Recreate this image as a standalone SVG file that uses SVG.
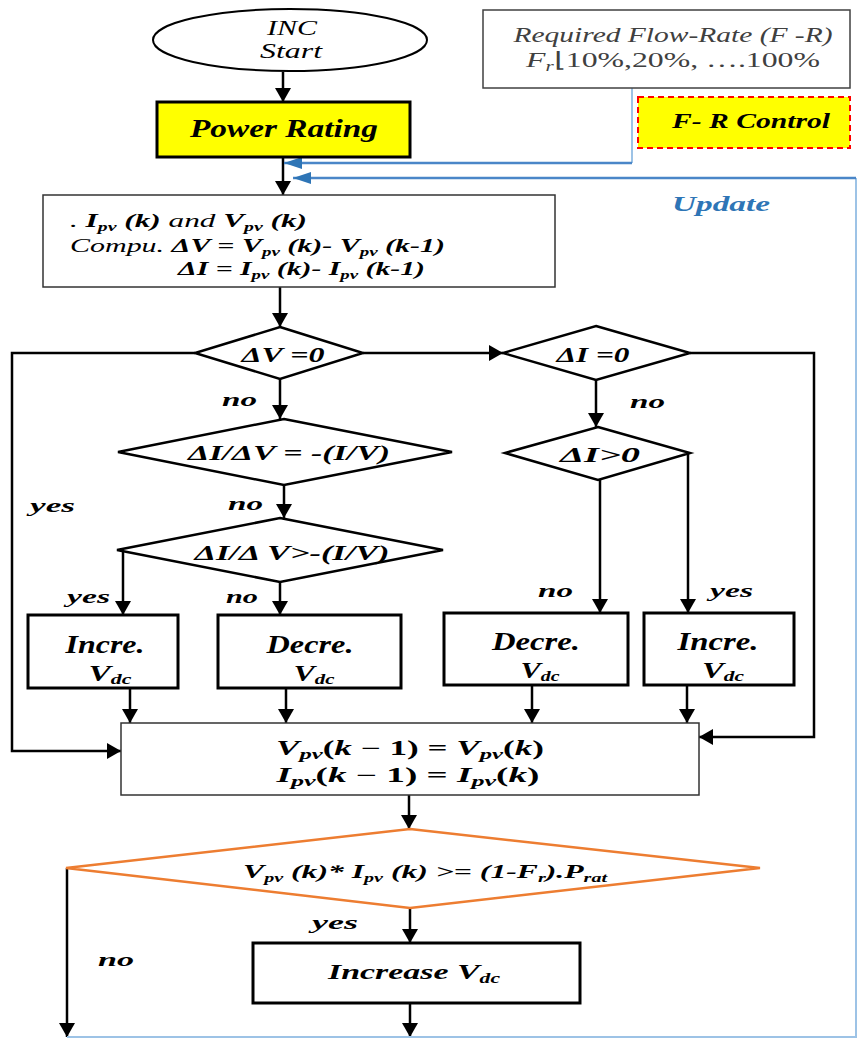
<svg xmlns="http://www.w3.org/2000/svg" width="858" height="1039" viewBox="0 0 858 1039">
<defs>
<marker id="ah" viewBox="0 0 14 16" markerWidth="14" markerHeight="16" refX="14" refY="8" orient="auto" markerUnits="userSpaceOnUse"><path d="M0,0 L14,8 L0,16 z" fill="#000"/></marker>
<marker id="bh" viewBox="0 0 18 12" markerWidth="18" markerHeight="12" refX="18" refY="6" orient="auto" markerUnits="userSpaceOnUse"><path d="M0,0 L18,6 L0,12 z" fill="#2E75B6"/></marker>
<style>
.t{font-family:"Liberation Serif","Times New Roman",serif;font-style:italic;font-weight:bold;fill:#000}
.r{font-weight:normal}
.up{font-style:normal}
.box{fill:#fff;stroke:#000;stroke-width:3}
.thin{fill:#fff;stroke:#333;stroke-width:1.5}
.dia{fill:#fff;stroke:#000;stroke-width:2.5}
.c{fill:none;stroke:#000;stroke-width:2.5}
.b{fill:none;stroke:#9DC3E6;stroke-width:2}
.bd{fill:none;stroke:#4A86C8;stroke-width:2.5}
</style>
</defs>
<rect width="858" height="1039" fill="#fff"/>

<g id="connectors">
<path class="c" d="M283,72 V102" marker-end="url(#ah)"/>
<path class="c" d="M283,157 V195" marker-end="url(#ah)"/>
<path class="c" d="M280,287 V327" marker-end="url(#ah)"/>
<path class="c" d="M195,353 H12 V751 H121" marker-end="url(#ah)"/>
<path class="c" d="M363,353 H503" marker-end="url(#ah)"/>
<path class="c" d="M280,379 V419" marker-end="url(#ah)"/>
<path class="c" d="M284,485 V518" marker-end="url(#ah)"/>
<path class="c" d="M123,550 V615" marker-end="url(#ah)"/>
<path class="c" d="M280,582 V615" marker-end="url(#ah)"/>
<path class="c" d="M690,353 H814 V737 H699" marker-end="url(#ah)"/>
<path class="c" d="M596,380 V427" marker-end="url(#ah)"/>
<path class="c" d="M600,480 V613" marker-end="url(#ah)"/>
<path class="c" d="M688,453 V613" marker-end="url(#ah)"/>
<path class="c" d="M130,688 V723" marker-end="url(#ah)"/>
<path class="c" d="M286,688 V723" marker-end="url(#ah)"/>
<path class="c" d="M532,685 V723" marker-end="url(#ah)"/>
<path class="c" d="M687,685 V723" marker-end="url(#ah)"/>
<path class="c" d="M409,795 V829" marker-end="url(#ah)"/>
<path class="c" d="M67,868 V1037" marker-end="url(#ah)"/>
<path class="c" d="M410,908 V943" marker-end="url(#ah)"/>
<path class="c" d="M410,1003 V1037" marker-end="url(#ah)"/>
<path class="b" d="M67,1037 H856 V178"/>
<path class="bd" d="M856,178 H293" marker-end="url(#bh)"/>
<path class="b" d="M632,88 V163"/>
<path class="bd" d="M632,163 H284" marker-end="url(#bh)"/>
</g>

<g id="start">
<ellipse cx="290" cy="40" rx="137" ry="31" fill="#fff" stroke="#000" stroke-width="2"/>
<text class="t r" x="292" y="35" font-size="21" text-anchor="middle" textLength="50" lengthAdjust="spacingAndGlyphs">INC</text>
<text class="t r" x="291" y="58" font-size="21" text-anchor="middle" textLength="62" lengthAdjust="spacingAndGlyphs">Start</text>
</g>

<g id="power-rating">
<rect x="157" y="102" width="253" height="55" fill="#FFFF00" stroke="#000" stroke-width="3"/>
<text class="t" x="284" y="137" font-size="25" text-anchor="middle" textLength="188" lengthAdjust="spacingAndGlyphs">Power Rating</text>
</g>

<g id="required-flow-rate">
<rect x="483" y="10" width="367" height="78" fill="#fff" stroke="#404040" stroke-width="1.5"/>
<text class="t r" x="673" y="42" font-size="21" style="fill:#404040" text-anchor="middle" textLength="319" lengthAdjust="spacingAndGlyphs">Required Flow-Rate (F -R)</text>
<text class="t r" x="526" y="67" font-size="21" style="fill:#404040" textLength="294" lengthAdjust="spacingAndGlyphs">F<tspan font-size="14" dy="4">r</tspan><tspan class="up" dy="-4">⌊10%,20%, ….100%</tspan></text>
</g>

<g id="fr-control">
<rect x="638" y="97" width="212" height="51" fill="#FFFF00" stroke="#FF0000" stroke-width="2" stroke-dasharray="6 4"/>
<text class="t" x="751" y="128" font-size="20" text-anchor="middle" textLength="158" lengthAdjust="spacingAndGlyphs">F- R Control</text>
</g>

<g id="update-label">
<text class="t" x="721" y="211" font-size="21" style="fill:#2E75B6" text-anchor="middle" textLength="98" lengthAdjust="spacingAndGlyphs">Update</text>
</g>

<g id="compute">
<rect class="thin" x="43" y="195" width="512" height="92"/>
<text class="t" x="70" y="227" font-size="19" textLength="237" lengthAdjust="spacingAndGlyphs"><tspan class="r">.  </tspan>I<tspan font-size="12" dy="4">pv</tspan><tspan dy="-4"> (k) </tspan><tspan class="r">and </tspan>V<tspan font-size="12" dy="4">pv</tspan><tspan dy="-4"> (k)</tspan></text>
<text class="t" x="70" y="252" font-size="19" textLength="375" lengthAdjust="spacingAndGlyphs"><tspan class="r">Compu. </tspan>ΔV = V<tspan font-size="12" dy="4">pv</tspan><tspan dy="-4"> (k)- V</tspan><tspan font-size="12" dy="4">pv</tspan><tspan dy="-4"> (k-1)</tspan></text>
<text class="t" x="178" y="275" font-size="19" textLength="247" lengthAdjust="spacingAndGlyphs">ΔI = I<tspan font-size="12" dy="4">pv</tspan><tspan dy="-4"> (k)- I</tspan><tspan font-size="12" dy="4">pv</tspan><tspan dy="-4"> (k-1)</tspan></text>
</g>

<g id="dv-zero">
<polygon class="dia" points="280,327 363,353 280,379 195,353"/>
<text class="t" x="283" y="362" font-size="22" text-anchor="middle" textLength="83" lengthAdjust="spacingAndGlyphs">ΔV =0</text>
</g>

<g id="di-zero">
<polygon class="dia" points="596,326 690,353 596,380 503,353"/>
<text class="t" x="593" y="362" font-size="22" text-anchor="middle" textLength="73" lengthAdjust="spacingAndGlyphs">ΔI =0</text>
</g>

<g id="didv-eq">
<polygon class="dia" points="284,419 452,452 284,485 118,452"/>
<text class="t" x="289" y="460" font-size="22" text-anchor="middle" textLength="202" lengthAdjust="spacingAndGlyphs">ΔI/ΔV = -(I/V)</text>
</g>

<g id="di-pos">
<polygon class="dia" points="598,427 690,453 598,480 505,453"/>
<text class="t" x="600" y="462" font-size="22" text-anchor="middle" textLength="80" lengthAdjust="spacingAndGlyphs">ΔI&gt;0</text>
</g>

<g id="didv-gt">
<polygon class="dia" points="280,518 443,550 280,582 117,550"/>
<text class="t" x="292" y="560" font-size="22" text-anchor="middle" textLength="195" lengthAdjust="spacingAndGlyphs">ΔI/Δ V&gt;-(I/V)</text>
</g>

<g id="incre-1">
<rect class="box" x="28" y="615" width="150" height="73"/>
<text class="t" x="105" y="653" font-size="25" text-anchor="middle" textLength="79" lengthAdjust="spacingAndGlyphs">Incre.</text>
<text class="t" x="110" y="681" font-size="23" text-anchor="middle" textLength="43" lengthAdjust="spacingAndGlyphs">V<tspan font-size="15" dy="3">dc</tspan></text>
</g>

<g id="decre-1">
<rect class="box" x="218" y="615" width="183" height="73"/>
<text class="t" x="310" y="653" font-size="25" text-anchor="middle" textLength="87" lengthAdjust="spacingAndGlyphs">Decre.</text>
<text class="t" x="314" y="681" font-size="23" text-anchor="middle" textLength="41" lengthAdjust="spacingAndGlyphs">V<tspan font-size="15" dy="3">dc</tspan></text>
</g>

<g id="decre-2">
<rect class="box" x="444" y="613" width="184" height="72"/>
<text class="t" x="536" y="650" font-size="25" text-anchor="middle" textLength="88" lengthAdjust="spacingAndGlyphs">Decre.</text>
<text class="t" x="540" y="678" font-size="23" text-anchor="middle" textLength="39" lengthAdjust="spacingAndGlyphs">V<tspan font-size="15" dy="3">dc</tspan></text>
</g>

<g id="incre-2">
<rect class="box" x="644" y="613" width="150" height="72"/>
<text class="t" x="718" y="650" font-size="25" text-anchor="middle" textLength="81" lengthAdjust="spacingAndGlyphs">Incre.</text>
<text class="t" x="723" y="678" font-size="23" text-anchor="middle" textLength="42" lengthAdjust="spacingAndGlyphs">V<tspan font-size="15" dy="3">dc</tspan></text>
</g>

<g id="store">
<rect class="thin" x="121" y="723" width="578" height="72"/>
<text class="t" x="410" y="755" font-size="20" text-anchor="middle" textLength="268" lengthAdjust="spacingAndGlyphs">V<tspan font-size="14" dy="4">pv</tspan><tspan class="up" dy="-4">(</tspan>k<tspan class="up"> − 1)  = </tspan>V<tspan font-size="14" dy="4">pv</tspan><tspan class="up" dy="-4">(</tspan>k<tspan class="up">)</tspan></text>
<text class="t" x="408" y="782" font-size="20" text-anchor="middle" textLength="263" lengthAdjust="spacingAndGlyphs">I<tspan font-size="14" dy="4">pv</tspan><tspan class="up" dy="-4">(</tspan>k<tspan class="up"> − 1)  = </tspan>I<tspan font-size="14" dy="4">pv</tspan><tspan class="up" dy="-4">(</tspan>k<tspan class="up">)</tspan></text>
</g>

<g id="power-check">
<polygon points="410,829 760,868 410,908 66,868" fill="#fff" stroke="#ED7D31" stroke-width="2.5"/>
<text class="t" x="243" y="878" font-size="19" textLength="364" lengthAdjust="spacingAndGlyphs">V<tspan font-size="12" dy="4">pv</tspan><tspan dy="-4"> (k)* I</tspan><tspan font-size="12" dy="4">pv</tspan><tspan dy="-4"> (k) &gt;= (1-F</tspan><tspan font-size="12" dy="4">r</tspan><tspan dy="-4">).P</tspan><tspan font-size="12" dy="4">rat</tspan></text>
</g>

<g id="increase">
<rect class="box" x="253" y="943" width="327" height="60"/>
<text class="t" x="414" y="979" font-size="22" text-anchor="middle" textLength="172" lengthAdjust="spacingAndGlyphs">Increase V<tspan font-size="14" dy="4">dc</tspan></text>
</g>

<g id="labels">
<text class="t" x="222" y="406" font-size="19" textLength="35" lengthAdjust="spacingAndGlyphs">no</text>
<text class="t" x="228" y="510" font-size="19" textLength="35" lengthAdjust="spacingAndGlyphs">no</text>
<text class="t" x="30" y="512" font-size="19" textLength="45" lengthAdjust="spacingAndGlyphs">yes</text>
<text class="t" x="67" y="603" font-size="19" textLength="43" lengthAdjust="spacingAndGlyphs">yes</text>
<text class="t" x="226" y="603" font-size="19" textLength="32" lengthAdjust="spacingAndGlyphs">no</text>
<text class="t" x="630" y="408" font-size="19" textLength="35" lengthAdjust="spacingAndGlyphs">no</text>
<text class="t" x="538" y="597" font-size="19" textLength="35" lengthAdjust="spacingAndGlyphs">no</text>
<text class="t" x="710" y="597" font-size="19" textLength="43" lengthAdjust="spacingAndGlyphs">yes</text>
<text class="t" x="312" y="929" font-size="19" textLength="46" lengthAdjust="spacingAndGlyphs">yes</text>
<text class="t" x="98" y="966" font-size="19" textLength="36" lengthAdjust="spacingAndGlyphs">no</text>
</g>
</svg>
